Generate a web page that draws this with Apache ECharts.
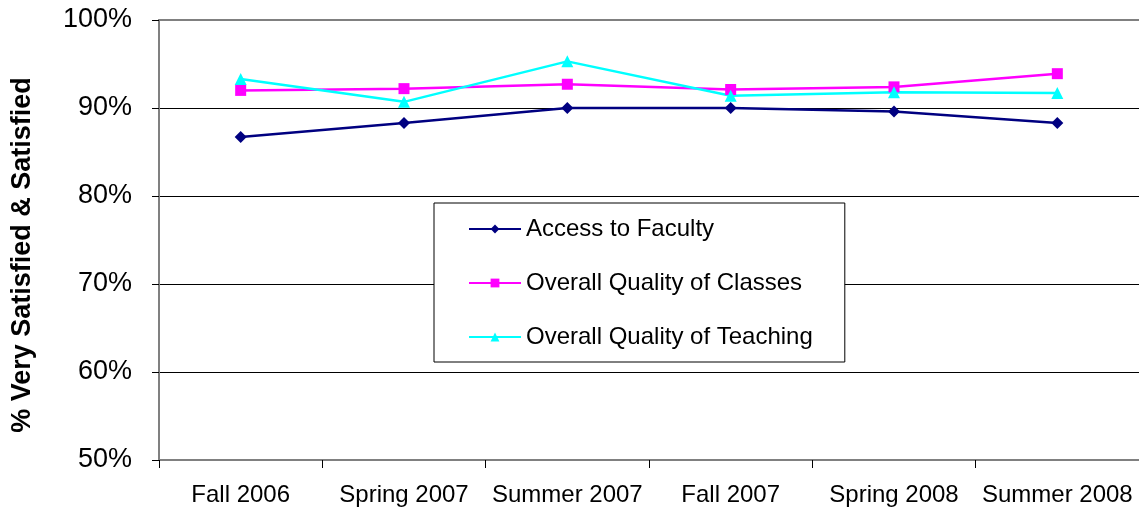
<!DOCTYPE html>
<html>
<head>
<meta charset="utf-8">
<script src="https://cdn.jsdelivr.net/npm/echarts@6/dist/echarts.min.js"></script>
<style>
  html, body { margin: 0; padding: 0; background: #fff; }
  #chart { width: 1139px; height: 512px; }
</style>
</head>
<body>
<div id="chart"></div>
<script>
const terms = ['Fall 2006', 'Spring 2007', 'Summer 2007', 'Fall 2007', 'Spring 2008', 'Summer 2008'];
const accessFaculty = [86.7, 88.3, 90.0, 90.0, 89.6, 88.3];
const qualityClasses = [92.0, 92.2, 92.7, 92.1, 92.4, 93.9];
const qualityTeaching = [93.3, 90.7, 95.3, 91.4, 91.8, 91.7];
const yTicks = [50, 60, 70, 80, 90, 100];

const FONT = '"Liberation Sans", Arial, sans-serif';
const myChart = echarts.init(document.getElementById('chart'));

const option = {
  backgroundColor: '#fff',
  animation: false,
  textStyle: { fontFamily: FONT, color: '#000' },
  grid: { left: 159, top: 20, right: -5, bottom: 52, containLabel: false },
  legend: {
    orient: 'vertical',
    left: 434,
    top: 203,
    padding: [14, 32, 13, 34],
    itemWidth: 52,
    itemHeight: 11,
    itemGap: 30,
    borderColor: '#000',
    borderWidth: 1,
    backgroundColor: '#fff',
    textStyle: { fontFamily: FONT, fontSize: 24, color: '#000' },
    data: ['Access to Faculty', 'Overall Quality of Classes', 'Overall Quality of Teaching']
  },
  xAxis: [{
    type: 'category',
    data: terms,
    boundaryGap: true,
    axisLine: { show: true, lineStyle: { color: '#808080', width: 2 } },
    axisTick: { show: true, alignWithLabel: false, interval: 0, length: 8, lineStyle: { color: '#000', width: 1 } },
    axisLabel: { margin: 23, fontSize: 24, color: '#000', fontFamily: FONT, interval: 0 },
    splitLine: { show: false }
  }, {
    type: 'category',
    position: 'top',
    data: terms,
    axisLine: { onZero: false, lineStyle: { color: '#808080', width: 2 } },
    axisTick: { show: false },
    axisLabel: { show: false }
  }],
  yAxis: {
    type: 'value',
    min: yTicks[0],
    max: yTicks[yTicks.length - 1],
    interval: 10,
    name: '% Very Satisfied & Satisfied',
    nameLocation: 'middle',
    nameGap: 123,
    nameTextStyle: { fontFamily: FONT, fontSize: 27, fontWeight: 'bold', color: '#000', padding: [0, 30, 0, 0] },
    axisLine: { show: true, lineStyle: { color: '#808080', width: 2 } },
    axisTick: { show: true, length: 7, lineStyle: { color: '#000' } },
    axisLabel: { margin: 27, fontSize: 27, color: '#000', fontFamily: FONT, formatter: '{value}%' },
    splitLine: { show: true, lineStyle: { color: ['#000', '#000', '#000', '#000', '#000', '#808080'], width: 1 } }
  },
  series: [{
    name: 'Access to Faculty',
    type: 'line',
    data: accessFaculty,
    symbol: 'diamond',
    symbolSize: 12,
    lineStyle: { color: '#000080', width: 2.5 },
    itemStyle: { color: '#000080' }
  }, {
    name: 'Overall Quality of Classes',
    type: 'line',
    data: qualityClasses,
    symbol: 'rect',
    symbolSize: 11,
    lineStyle: { color: '#ff00ff', width: 2.5 },
    itemStyle: { color: '#ff00ff' }
  }, {
    name: 'Overall Quality of Teaching',
    type: 'line',
    data: qualityTeaching,
    symbol: 'triangle',
    symbolSize: 12,
    lineStyle: { color: '#00ffff', width: 2.5 },
    itemStyle: { color: '#00ffff' }
  }]
};

myChart.setOption(option);
</script>
</body>
</html>
